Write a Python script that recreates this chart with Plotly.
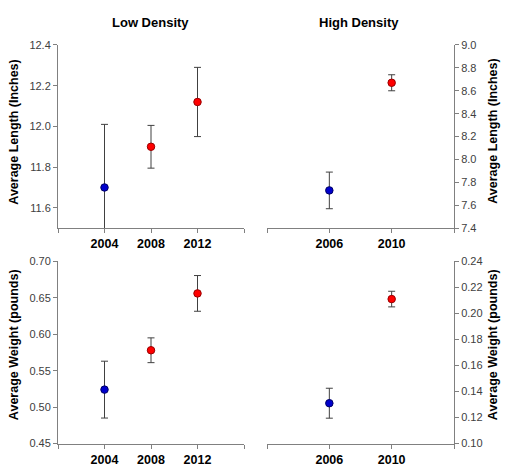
import plotly.graph_objects as go

# ---- data ----
low_years = [2004, 2008, 2012]
high_years = [2006, 2010]

low_len = [11.70, 11.90, 12.12]
low_len_err = [0.31, 0.105, 0.17]
high_len = [7.73, 8.67]
high_len_err = [0.16, 0.07]

low_wt = [0.524, 0.578, 0.656]
low_wt_err = [0.039, 0.017, 0.0245]
high_wt = [0.131, 0.211]
high_wt_err = [0.0115, 0.006]

low_colors = ["#0000CC", "#FF0000", "#FF0000"]
low_edges = ["#000066", "#990000", "#990000"]
high_colors = ["#0000CC", "#FF0000"]
high_edges = ["#000066", "#990000"]

W, H = 507, 471
FONT = "Liberation Sans, Arial, sans-serif"

def px_x(p):
    return p / W

def px_y(p):
    return 1 - p / H

fig = go.Figure()

def add(xs, ys, errs, colors, edges, xa, ya):
    fig.add_trace(go.Scatter(
        x=xs, y=ys, mode="markers",
        marker=dict(size=7.5, color=colors, line=dict(color=edges, width=1)),
        error_y=dict(type="data", array=errs, visible=True, color="#404040",
                     thickness=1, width=3.5),
        xaxis=xa, yaxis=ya, showlegend=False, hoverinfo="x+y",
    ))

add(low_years, low_len, low_len_err, low_colors, low_edges, "x", "y")
add(high_years, high_len, high_len_err, high_colors, high_edges, "x2", "y2")
add(low_years, low_wt, low_wt_err, low_colors, low_edges, "x3", "y3")
add(high_years, high_wt, high_wt_err, high_colors, high_edges, "x4", "y4")

left_dom = [px_x(58), px_x(244)]
right_dom = [px_x(267), px_x(454)]
top_dom = [px_y(228), px_y(40)]
bot_dom = [px_y(449), px_y(262)]

low_range = [low_years[0] - 4, low_years[-1] + 4]
high_range = [high_years[0] - 4, high_years[-1] + 4]
low_ticks = [low_range[0]] + low_years + [low_range[1]]
high_ticks = [high_range[0]] + high_years + [high_range[1]]
low_text = [""] + [str(v) for v in low_years] + [""]
high_text = [""] + [str(v) for v in high_years] + [""]

xcommon = dict(showline=True, linecolor="#808080", linewidth=1, ticks="outside",
               ticklen=4, tickcolor="#808080", showgrid=False, zeroline=False,
               tickfont=dict(family=FONT, size=12.5, color="#000000", weight="bold"))
ycommon = dict(showline=True, linecolor="#808080", linewidth=1, ticks="outside",
               ticklen=4, tickcolor="#808080", showgrid=False, zeroline=False,
               tickfont=dict(family=FONT, size=11, color="#404040"))

fig.update_layout(
    width=W, height=H, margin=dict(l=0, r=0, t=0, b=0),
    paper_bgcolor="white", plot_bgcolor="white",
    xaxis=dict(domain=left_dom, range=low_range, tickvals=low_ticks, ticktext=low_text,
               anchor="y", **xcommon),
    yaxis=dict(domain=top_dom, range=[11.5, 12.4], dtick=0.2, tick0=11.6,
               tickformat=".1f", anchor="x", **ycommon),
    xaxis2=dict(domain=right_dom, range=high_range, tickvals=high_ticks, ticktext=high_text,
                anchor="y2", **xcommon),
    yaxis2=dict(domain=top_dom, range=[7.4, 9.0], dtick=0.2, tick0=7.4,
                tickformat=".1f", side="right", anchor="x2", **ycommon),
    xaxis3=dict(domain=left_dom, range=low_range, tickvals=low_ticks, ticktext=low_text,
                anchor="y3", **xcommon),
    yaxis3=dict(domain=bot_dom, range=[0.45, 0.70], dtick=0.05, tick0=0.45,
                tickformat=".2f", anchor="x3", **ycommon),
    xaxis4=dict(domain=right_dom, range=high_range, tickvals=high_ticks, ticktext=high_text,
                anchor="y4", **xcommon),
    yaxis4=dict(domain=bot_dom, range=[0.10, 0.24], dtick=0.02, tick0=0.10,
                tickformat=".2f", side="right", anchor="x4", **ycommon),
)

def ann(text, x, y, angle=0):
    fig.add_annotation(text="<b>%s</b>" % text, x=px_x(x), y=px_y(y), xref="paper",
                       yref="paper", showarrow=False, textangle=angle,
                       font=dict(family=FONT, size=13 if angle == 0 else 12.5, color="#000000"),
                       xanchor="center", yanchor="middle")

ann("Low Density", 150, 17)
ann("High Density", 359, 17)
ann("Average Length (Inches)", 14, 130, -90)
ann("Average Weight (pounds)", 14, 348, -90)
ann("Average Length (Inches)", 493, 129, -90)
ann("Average Weight (pounds)", 493, 348, -90)

fig.write_html("out.html")
